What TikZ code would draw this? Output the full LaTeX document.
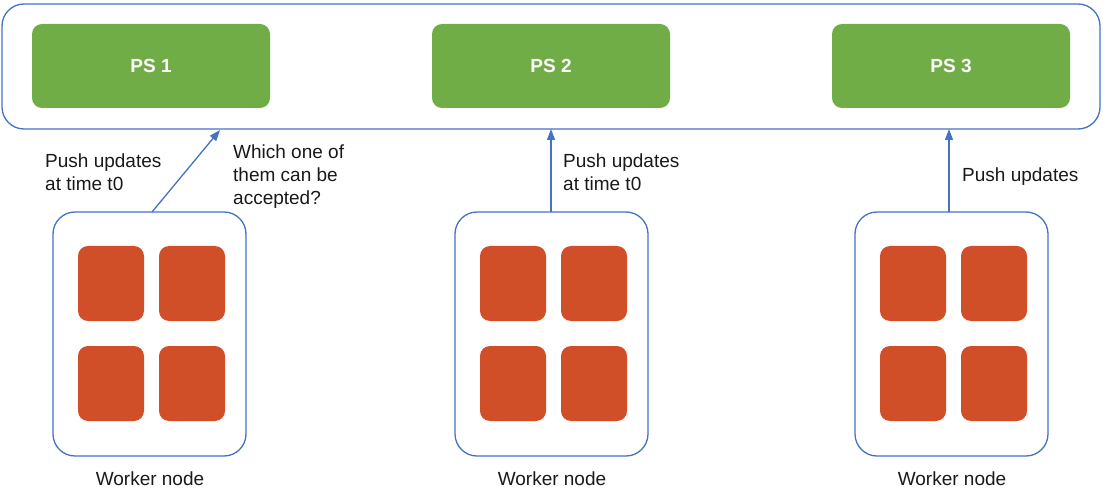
\documentclass[tikz,border=0pt]{standalone}
\usepackage{fontspec}
\setmainfont{Liberation Sans}
\usetikzlibrary{arrows.meta}
\definecolor{psgreen}{HTML}{70AD47}
\definecolor{cored}{HTML}{D04F29}
\definecolor{lineblue}{HTML}{4472C4}
\tikzset{
  frame/.style={draw=lineblue, line width=1.3pt, rounded corners=22pt},
  psbox/.style={fill=psgreen, rounded corners=10pt},
  core/.style={fill=cored, rounded corners=10pt},
  pushline/.style={draw=lineblue, line width=1.3pt, -{Triangle[length=11pt,width=8pt]}},
  lbl/.style={font=\fontsize{19}{23}\selectfont, text=black!90, align=left, inner sep=0pt},
  pslbl/.style={font=\fontsize{19}{22}\selectfont\bfseries, text=white}
}
\begin{document}
\begin{tikzpicture}[x=1pt,y=-1pt]
\useasboundingbox (0,0) rectangle (1103,489);
% outer PS container
\draw[frame] (2,4) rectangle (1100,129);
% PS boxes
\foreach \i/\x in {1/32,2/432,3/832}{
  \fill[psbox] (\x,24) rectangle ++(238,84);
  \node[pslbl] (ps\i) at (\x+119,66) {PS \i};
}
% worker boxes
\foreach \i/\x in {1/53,2/455,3/855}{
  \draw[frame] (\x,212) rectangle ++(193,244);
  \fill[core] (\x+25,246) rectangle ++(66,75);
  \fill[core] (\x+106,246) rectangle ++(66,75);
  \fill[core] (\x+25,346) rectangle ++(66,75);
  \fill[core] (\x+106,346) rectangle ++(66,75);
  \node[lbl] (wl\i) at (\x+97,479) {Worker node};
}
% arrows
\coordinate (t1) at (220,130);
\coordinate (t2) at (551,129);
\coordinate (t3) at (949,129);
\coordinate (s1) at (152,212);
\coordinate (s2) at (551,212);
\coordinate (s3) at (949,212);
\draw[pushline] (s1) -- (t1);
\draw[pushline] (s2) -- (t2);
\draw[pushline] (s3) -- (t3);
% labels
\node[lbl, anchor=north west] (l1) at (45,154) {Push updates\\at time t0};
\node[lbl, anchor=north west] (l2) at (233,145) {Which one of\\them can be\\accepted?};
\node[lbl, anchor=north west] (l3) at (563,154) {Push updates\\at time t0};
\node[lbl, anchor=north west] (l4) at (962,168) {Push updates};
\end{tikzpicture}
\end{document}
